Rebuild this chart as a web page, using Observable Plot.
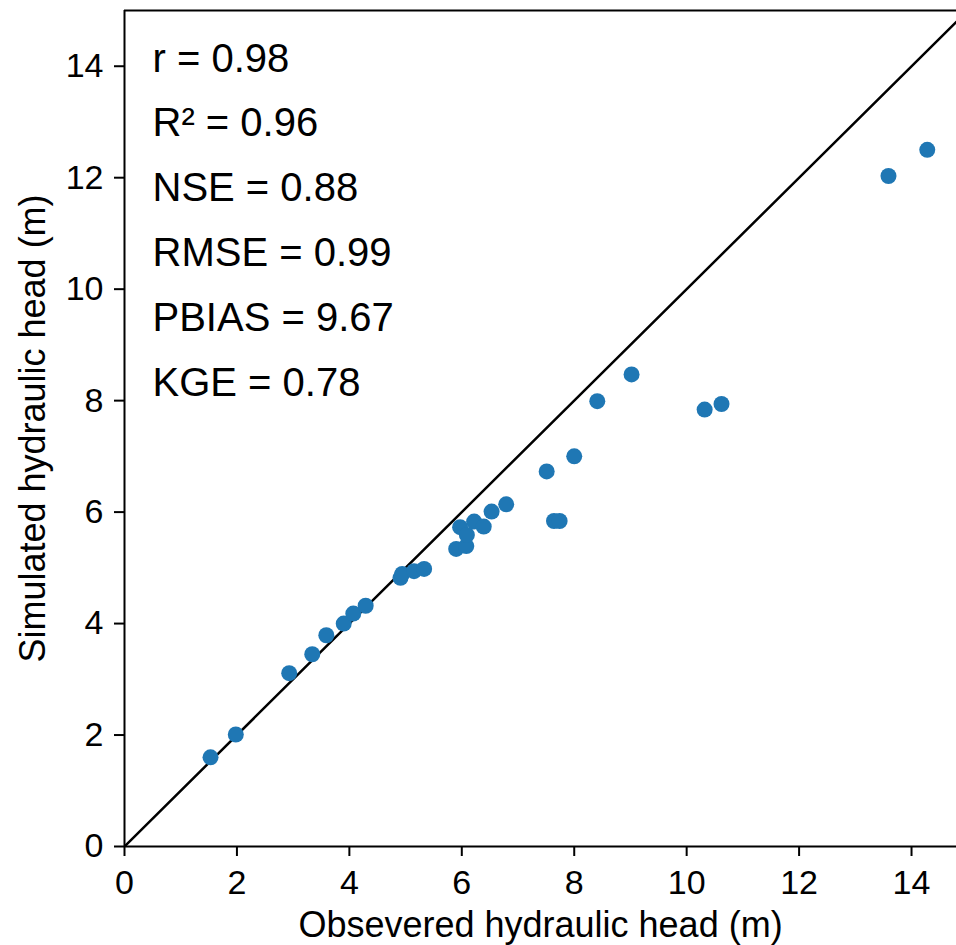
<!DOCTYPE html>
<html>
<head>
<meta charset="utf-8">
<script src="https://cdn.jsdelivr.net/npm/d3@7"></script>
<script src="https://cdn.jsdelivr.net/npm/@observablehq/plot@0.6"></script>
<style>
  html, body { margin: 0; padding: 0; background: #fff; }
</style>
</head>
<body>
<div id="chart"></div>
<script>
// Observed vs simulated hydraulic head at monitoring wells (m)
const observed = [
  1.53, 1.98, 2.93, 3.34, 3.59, 3.90, 4.07, 4.29, 4.91, 4.94,
  5.15, 5.33, 5.90, 6.08, 5.97, 6.09, 6.22, 6.39, 6.53, 6.79,
  7.51, 7.64, 7.74, 8.00, 8.41, 9.02, 10.32, 10.62, 13.59, 14.28
];
const simulated = [
  1.60, 2.01, 3.11, 3.45, 3.79, 4.00, 4.18, 4.32, 4.82, 4.89,
  4.94, 4.98, 5.34, 5.39, 5.73, 5.59, 5.83, 5.74, 6.01, 6.14,
  6.73, 5.84, 5.84, 7.00, 7.99, 8.47, 7.84, 7.94, 12.03, 12.50
];

// Goodness-of-fit statistics
const statNames = ["r", "R²", "NSE", "RMSE", "PBIAS", "KGE"];
const statValues = ["0.98", "0.96", "0.88", "0.99", "9.67", "0.78"];

const xTicks = [0, 2, 4, 6, 8, 10, 12, 14];
const yTicks = [0, 2, 4, 6, 8, 10, 12, 14];
const xDomain = [0, 14.8];
const yDomain = [0, 15];
const oneToOne = [0, 15];
const xLabel = "Obsevered hydraulic head (m)";
const yLabel = "Simulated hydraulic head (m)";

const wells = observed.map((o, i) => ({observed: o, simulated: simulated[i]}));
const statText = statNames.map((n, i) => `${n} = ${statValues[i]}`).join("\n");

const font = "'Liberation Sans', Arial, Helvetica, sans-serif";

const chart = Plot.plot({
  width: 956,
  height: 945,
  marginLeft: 124,
  marginRight: 0,
  marginTop: 10,
  marginBottom: 99,
  style: {fontFamily: font, fontSize: "34px", color: "#000", background: "#fff"},
  x: {domain: xDomain},
  y: {domain: yDomain},
  marks: [
    Plot.axisX({ticks: xTicks, tickSize: 10, tickPadding: 13, strokeWidth: 2, label: null}),
    Plot.axisY({ticks: yTicks, tickSize: 10, tickPadding: 11, strokeWidth: 2, label: null}),
    // axis titles
    Plot.text([xLabel], {
      frameAnchor: "bottom", textAnchor: "middle", lineAnchor: "bottom", dy: 90, fontSize: 36, fill: "#000"
    }),
    Plot.text([yLabel], {
      frameAnchor: "left", textAnchor: "middle", lineAnchor: "bottom", rotate: -90, dx: -80, fontSize: 36, fill: "#000"
    }),
    // 1:1 line
    Plot.line(oneToOne, {x: d => d, y: d => d, stroke: "#000", strokeWidth: 2.5, clip: true}),
    Plot.dot(wells, {x: "observed", y: "simulated", r: 8, fill: "#1f77b4", stroke: "none"}),
    // axes spines
    Plot.ruleY([yDomain[0]], {stroke: "#000", strokeWidth: 2}),
    Plot.ruleY([yDomain[1]], {stroke: "#000", strokeWidth: 2}),
    Plot.ruleX([xDomain[0]], {stroke: "#000", strokeWidth: 2}),
    Plot.text([statText], {
      frameAnchor: "top-left", textAnchor: "start", lineAnchor: "top",
      dx: 28, dy: 15, fontSize: 40, lineHeight: 1.62, fill: "#000"
    })
  ]
});

document.getElementById("chart").appendChild(chart);
</script>
</body>
</html>
